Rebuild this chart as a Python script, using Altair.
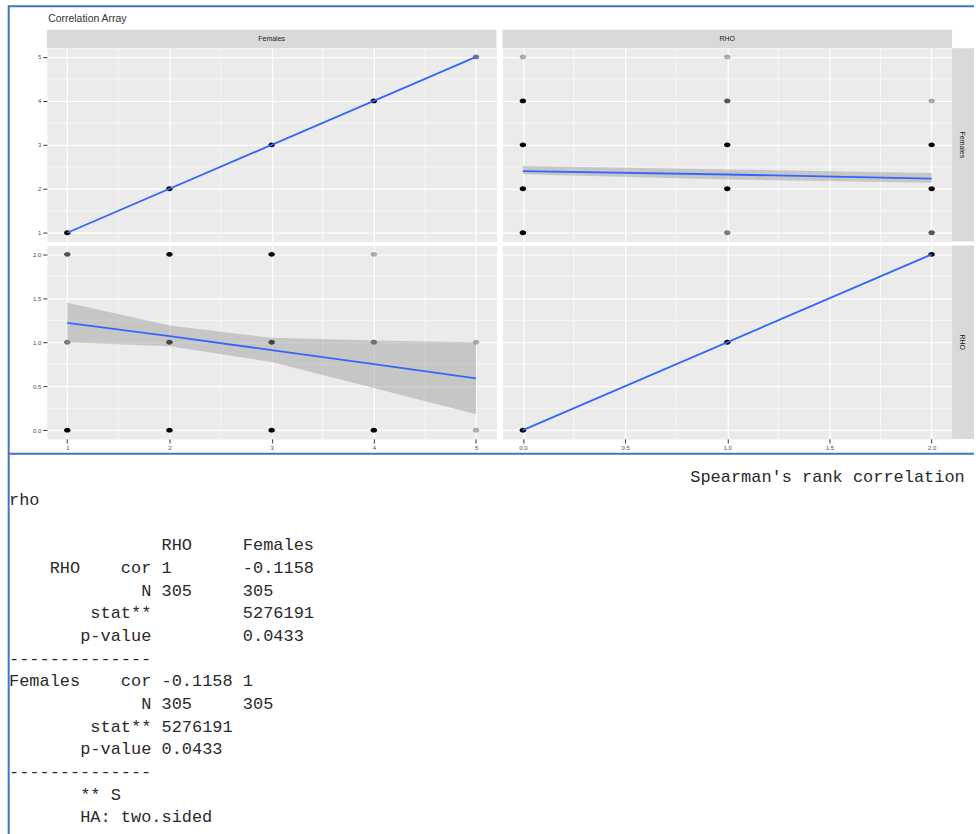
import altair as alt
import pandas as pd

# ---- data -------------------------------------------------------------
fem_levels = [1, 2, 3, 4, 5]
rho_levels = [0, 1, 2]

# number of observations at each Females level, one list per RHO level
count_rho0 = [27, 60, 55, 12, 1]
count_rho1 = [2, 45, 40, 3, 1]
count_rho2 = [3, 30, 25, 1, 0]
point_alpha = 0.3

# smoother of Females against RHO (fit and confidence band)
fit_fr_x = [0.0, 1.0, 2.0]
fit_fr_y = [2.40, 2.325, 2.23]
fit_fr_lo = [2.33, 2.21, 2.14]
fit_fr_hi = [2.52, 2.44, 2.36]

# smoother of RHO against Females (fit and confidence band)
fit_rf_x = [1, 2, 3, 4, 5]
fit_rf_y = [1.22, 1.07, 0.91, 0.75, 0.59]
fit_rf_lo = [1.00, 0.955, 0.775, 0.48, 0.18]
fit_rf_hi = [1.45, 1.19, 1.05, 1.02, 1.00]

fem_ticks = [1, 2, 3, 4, 5]
fem_minor = [1.5, 2.5, 3.5, 4.5]
rho_ticks = [0, 0.5, 1, 1.5, 2]
rho_minor = [0.25, 0.75, 1.25, 1.75]

# Spearman test summary
rho_cor = -0.1158
n_obs = 305
stat_s = 5276191
p_value = 0.0433

# ---- layout constants ---------------------------------------------------
W, H = 451, 194
OX, OY = 46, 45.7          # top-left panel origin on the page
PAGE_W, PAGE_H = 976, 834
FEM_DOM = [0.8, 5.2]
RHO_DOM = [-0.1, 2.1]
STRIP = 18.5
BLUE = "#4472C4"
ELLIPSE = "M-1,0A1,0.75,0,1,1,1,0A1,0.75,0,1,1,-1,0Z"
CHAR_W = 10.2              # advance of the monospace font at 17px

rows = []
for r, cnts in zip(rho_levels, [count_rho0, count_rho1, count_rho2]):
    for f, c in zip(fem_levels, cnts):
        if c > 0:
            rows.append({"F": f, "R": r, "n": c})
cells = pd.DataFrame(rows)
cells["op"] = 1 - (1 - point_alpha) ** cells["n"]

diag_f = cells.groupby("F", as_index=False)["n"].sum()
diag_f["op"] = 1 - (1 - point_alpha) ** diag_f["n"]
diag_r = cells.groupby("R", as_index=False)["n"].sum()
diag_r["op"] = 1 - (1 - point_alpha) ** diag_r["n"]


def make_axis(values, fmt, show):
    common = dict(values=values, title=None, grid=True, gridColor="white",
                  gridWidth=1.2, domain=False)
    if show:
        return alt.Axis(format=fmt, ticks=True, tickColor="#333333", tickSize=4,
                        tickWidth=1, labelFontSize=6, labelColor="#4d4d4d",
                        labelPadding=2, labelFont="Liberation Sans", **common)
    return alt.Axis(labels=False, ticks=False, **common)


def panel(points, xf, yf, xdom, ydom, xt, yt, xm, ym, xfmt, yfmt, xshow, yshow,
          fit=None, diag=None):
    xs = alt.Scale(domain=xdom, nice=False, zero=False)
    ys = alt.Scale(domain=ydom, nice=False, zero=False)
    xa = make_axis(xt, xfmt, xshow)
    ya = make_axis(yt, yfmt, yshow)
    layers = [
        alt.Chart(pd.DataFrame({"v": xm})).mark_rule(color="white", strokeWidth=0.6)
        .encode(x=alt.X("v:Q", scale=xs, axis=xa)),
        alt.Chart(pd.DataFrame({"v": ym})).mark_rule(color="white", strokeWidth=0.6)
        .encode(y=alt.Y("v:Q", scale=ys, axis=ya)),
        alt.Chart(points).mark_point(shape=ELLIPSE, filled=True, color="black", size=42)
        .encode(x=alt.X(f"{xf}:Q", scale=xs, axis=xa),
                y=alt.Y(f"{yf}:Q", scale=ys, axis=ya),
                opacity=alt.Opacity("op:Q", scale=None)),
    ]
    if fit is not None:
        layers.append(
            alt.Chart(fit).mark_area(color="#999999", opacity=0.45)
            .encode(x=alt.X("x:Q", scale=xs, axis=xa),
                    y=alt.Y("lo:Q", scale=ys, axis=ya), y2="hi:Q"))
        layers.append(
            alt.Chart(fit).mark_line(color="#3366FF", strokeWidth=1.8)
            .encode(x=alt.X("x:Q", scale=xs, axis=xa),
                    y=alt.Y("y:Q", scale=ys, axis=ya)))
    if diag is not None:
        layers.append(
            alt.Chart(pd.DataFrame({"v": diag})).mark_line(color="#3366FF", strokeWidth=1.8)
            .encode(x=alt.X("v:Q", scale=xs, axis=xa),
                    y=alt.Y("v:Q", scale=ys, axis=ya)))
    return alt.layer(*layers)


def top_strip(label):
    d = pd.DataFrame({"label": [label]})
    rect = alt.Chart(d).mark_rect(color="#D9D9D9").encode(
        x=alt.value(0), x2=alt.value(W), y=alt.value(-STRIP), y2=alt.value(0))
    txt = alt.Chart(d).mark_text(fontSize=7, color="#1a1a1a", font="Liberation Sans",
                                 baseline="middle").encode(
        text="label:N", x=alt.value(W / 2), y=alt.value(-STRIP / 2))
    return [rect, txt]


def right_strip(label):
    d = pd.DataFrame({"label": [label]})
    rect = alt.Chart(d).mark_rect(color="#D9D9D9").encode(
        x=alt.value(W), x2=alt.value(PAGE_W - (OX + 2 * W + 6) + W), y=alt.value(0),
        y2=alt.value(H))
    txt = alt.Chart(d).mark_text(fontSize=7, color="#1a1a1a", font="Liberation Sans",
                                 baseline="middle", angle=90).encode(
        text="label:N", x=alt.value(W + 9.5), y=alt.value(H / 2))
    return [rect, txt]


# ---- report text: (line, column, token) -----------------------------------
dash = "-" * 14
report_rows = [
    [(67, "Spearman's rank correlation")],
    [(0, "rho")],
    [],
    [(15, "RHO"), (23, "Females")],
    [(4, "RHO"), (11, "cor"), (15, "1"), (23, f"{rho_cor:.4f}")],
    [(13, "N"), (15, str(n_obs)), (23, str(n_obs))],
    [(8, "stat**"), (23, str(stat_s))],
    [(7, "p-value"), (23, f"{p_value:.4f}")],
    [(0, dash)],
    [(0, "Females"), (11, "cor"), (15, f"{rho_cor:.4f}"), (23, "1")],
    [(13, "N"), (15, str(n_obs)), (23, str(n_obs))],
    [(8, "stat**"), (15, str(stat_s))],
    [(7, "p-value"), (15, f"{p_value:.4f}")],
    [(0, dash)],
    [(7, "** S")],
    [(7, "HA: two.sided")],
]
tokens = pd.DataFrame(
    [{"line": i, "col": c, "text": t} for i, parts in enumerate(report_rows) for c, t in parts])
n_lines = len(report_rows)
first_base, step = 481.3, 22.73
left_x = 8
report_layer = alt.Chart(tokens).mark_text(
    font="Liberation Mono", fontSize=17, color="#2a2a2a", align="left",
    baseline="alphabetic").encode(
    text="text:N",
    x=alt.X("col:Q", axis=None,
            scale=alt.Scale(domain=[0, 100], range=[left_x - OX, left_x - OX + 100 * CHAR_W])),
    y=alt.Y("line:Q", axis=None,
            scale=alt.Scale(domain=[0, n_lines - 1],
                            range=[first_base - OY, first_base + step * (n_lines - 1) - OY])),
)

one = pd.DataFrame({"k": [0]})
frame = [
    alt.Chart(one).mark_rule(color=BLUE, strokeWidth=2).encode(
        x=alt.value(7 - OX), x2=alt.value(PAGE_W - OX), y=alt.value(3.7 - OY)),
    alt.Chart(one).mark_rule(color=BLUE, strokeWidth=2).encode(
        x=alt.value(7 - OX), x2=alt.value(PAGE_W - OX), y=alt.value(452.5 - OY)),
    alt.Chart(one).mark_rule(color=BLUE, strokeWidth=2).encode(
        x=alt.value(7.7 - OX), y=alt.value(3 - OY), y2=alt.value(PAGE_H - OY)),
]
page = alt.Chart(one).mark_rect(opacity=0).encode(
    x=alt.value(-OX), x2=alt.value(PAGE_W - OX), y=alt.value(-OY), y2=alt.value(PAGE_H - OY))
title = alt.Chart(pd.DataFrame({"t": ["Correlation Array"]})).mark_text(
    font="Liberation Sans", fontSize=10.5, color="#333333", align="left",
    baseline="alphabetic").encode(text="t:N", x=alt.value(1.3), y=alt.value(19.3 - OY))

fit_fr = pd.DataFrame({"x": fit_fr_x, "y": fit_fr_y, "lo": fit_fr_lo, "hi": fit_fr_hi})
fit_rf = pd.DataFrame({"x": fit_rf_x, "y": fit_rf_y, "lo": fit_rf_lo, "hi": fit_rf_hi})

# ---- panels -------------------------------------------------------------
ff = panel(diag_f, "F", "F", FEM_DOM, FEM_DOM, fem_ticks, fem_ticks, fem_minor, fem_minor,
           "d", "d", False, True, diag=[fem_levels[0], fem_levels[-1]])
fr = panel(cells, "R", "F", RHO_DOM, FEM_DOM, rho_ticks, fem_ticks, rho_minor, fem_minor,
           ".1f", "d", False, False, fit=fit_fr)
rf = panel(cells, "F", "R", FEM_DOM, RHO_DOM, fem_ticks, rho_ticks, fem_minor, rho_minor,
           "d", ".1f", True, True, fit=fit_rf)
rr = panel(diag_r, "R", "R", RHO_DOM, RHO_DOM, rho_ticks, rho_ticks, rho_minor, rho_minor,
           ".1f", ".1f", True, False, diag=[rho_levels[0], rho_levels[-1]])

p_ff = alt.layer(page, ff, *top_strip("Females"), title, *frame, report_layer) \
    .resolve_scale(x="independent", y="independent").properties(width=W, height=H)
p_fr = alt.layer(fr, *top_strip("RHO"), *right_strip("Females")).properties(width=W, height=H)
p_rf = alt.layer(rf).properties(width=W, height=H)
p_rr = alt.layer(rr, *right_strip("RHO")).properties(width=W, height=H)

chart = alt.concat(p_ff, p_fr, p_rf, p_rr, columns=2,
                   spacing={"row": 4, "column": 6}, bounds="flush") \
    .properties(padding=0, background="white") \
    .configure_view(fill="#EBEBEB", stroke="transparent")

chart.save("out.html", embed_options={"renderer": "svg", "actions": False})
